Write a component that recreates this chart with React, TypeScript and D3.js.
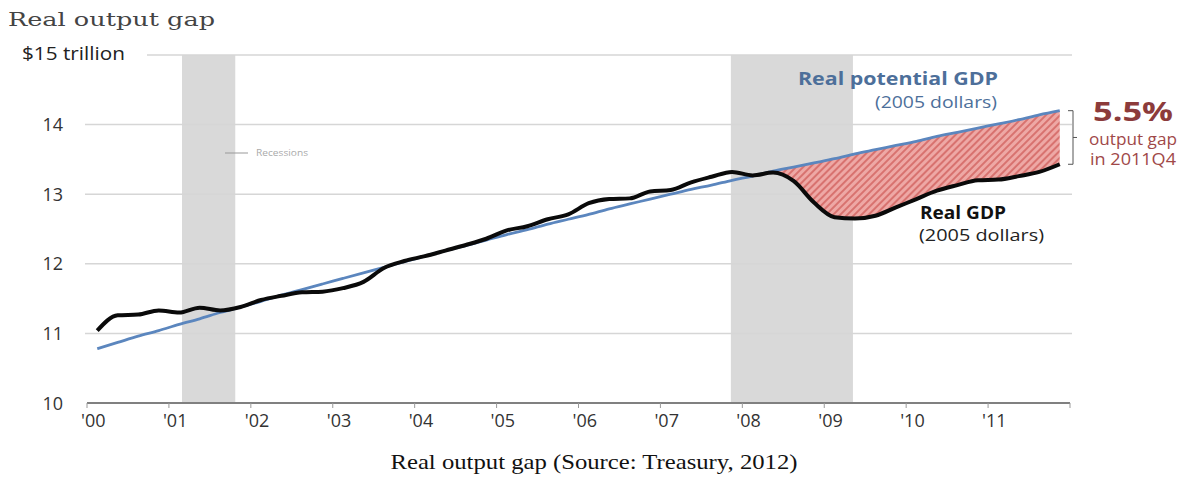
import React from "react";
import * as d3 from "d3";

const years = [2000, 2001, 2002, 2003, 2004, 2005, 2006, 2007, 2008, 2009, 2010, 2011];
const tickYears = [2000, 2001, 2002, 2003, 2004, 2005, 2006, 2007, 2008, 2009, 2010, 2011, 2012];
const tickLabels = ["'00", "'01", "'02", "'03", "'04", "'05", "'06", "'07", "'08", "'09", "'10", "'11", ""];
const yTicks = [10, 11, 12, 13, 14];

// Real GDP, trillions of 2005 dollars, quarterly 2000Q1..2011Q4
const realGDP = [
  11.04, 11.26, 11.27, 11.33,
  11.30, 11.37, 11.33, 11.38,
  11.48, 11.54, 11.59, 11.60,
  11.65, 11.74, 11.94, 12.04,
  12.11, 12.19, 12.27, 12.36,
  12.48, 12.54, 12.64, 12.71,
  12.87, 12.93, 12.94, 13.04,
  13.06, 13.17, 13.25, 13.32,
  13.27, 13.31, 13.19, 12.88,
  12.67, 12.65, 12.69, 12.81,
  12.93, 13.05, 13.13, 13.20,
  13.21, 13.26, 13.32, 13.43,
];

// Real potential GDP, trillions of 2005 dollars
const potentialGDP = [
  10.78, 10.87, 10.96, 11.04,
  11.13, 11.21, 11.30, 11.38,
  11.46, 11.55, 11.63, 11.71,
  11.79, 11.87, 11.95, 12.03,
  12.11, 12.19, 12.26, 12.34,
  12.42, 12.49, 12.57, 12.64,
  12.71, 12.79, 12.86, 12.93,
  13.00, 13.07, 13.13, 13.20,
  13.26, 13.33, 13.39, 13.45,
  13.51, 13.58, 13.64, 13.70,
  13.76, 13.83, 13.89, 13.95,
  14.01, 14.07, 14.14, 14.20,
];

const recessionStart = [2001.16, 2007.86];
const recessionEnd = [2001.81, 2009.35];

const gapStartIndex = 32; // 2008Q1

const W = 1191;
const H = 488;

export default function App() {
  const x = d3.scaleLinear().domain([2000, 2012]).range([87, 1070]);
  const y = d3.scaleLinear().domain([10, 15]).range([403, 55]);

  const quarterTime = (i: number) => years[Math.floor(i / 4)] + ((i % 4) + 0.5) / 4;

  const pts = realGDP.map((v, i) => ({ t: quarterTime(i), real: v, pot: potentialGDP[i] }));

  const lineReal = d3
    .line<any>()
    .x((d) => x(d.t))
    .y((d) => y(d.real))
    .curve(d3.curveMonotoneX);
  const linePot = d3
    .line<any>()
    .x((d) => x(d.t))
    .y((d) => y(d.pot))
    .curve(d3.curveMonotoneX);
  const gapArea = d3
    .area<any>()
    .x((d) => x(d.t))
    .y0((d) => y(d.real))
    .y1((d) => y(Math.max(d.pot, d.real)))
    .curve(d3.curveMonotoneX);

  const gapPts = pts.slice(gapStartIndex);
  const last = pts[pts.length - 1];
  const yTop = y(last.pot);
  const yBot = y(last.real);
  const yMid = (yTop + yBot) / 2;

  const sans = "'Open Sans', 'Noto Sans', sans-serif";
  const serif = "'DejaVu Serif', serif";

  return (
    <div style={{ position: "absolute", left: 0, top: 0 }}>
      <svg width={W} height={H} style={{ display: "block", background: "#fff" }}>
        <defs>
          <pattern id="hatch" patternUnits="userSpaceOnUse" width="5" height="5" patternTransform="rotate(45)">
            <rect width="5" height="5" fill="#eea8a5" />
            <rect width="2" height="5" fill="#d8726f" />
          </pattern>
        </defs>

        {/* title */}
        <text x={8} y={26} fontFamily={serif} fontSize={19} fill="#444" textLength={207} lengthAdjust="spacingAndGlyphs">
          Real output gap
        </text>
        <text x={22} y={60} fontFamily={sans} fontSize={18} fill="#222" textLength={103} lengthAdjust="spacingAndGlyphs">
          $15 trillion
        </text>

        {/* recession bars */}
        {recessionStart.map((s, i) => (
          <rect
            key={"r" + i}
            x={x(s)}
            y={y(15)}
            width={x(recessionEnd[i]) - x(s)}
            height={y(10) - y(15)}
            fill="#d9d9d9"
          />
        ))}

        {/* gridlines */}
        <line x1={147} x2={1072} y1={y(15)} y2={y(15)} stroke="#d6d6d6" strokeWidth={1.5} />
        {yTicks
          .filter((v) => v > 10)
          .map((v) => (
            <line key={"g" + v} x1={85} x2={1072} y1={y(v)} y2={y(v)} stroke="#d6d6d6" strokeWidth={1.5} />
          ))}

        {/* recession legend */}
        <line x1={225} x2={248} y1={153} y2={153} stroke="#999" strokeWidth={1} />
        <text x={256} y={156} fontFamily={sans} fontSize={9.5} fill="#aaa" textLength={52} lengthAdjust="spacingAndGlyphs">
          Recessions
        </text>

        {/* y labels */}
        {yTicks.map((v) => (
          <text key={"yl" + v} x={63} y={y(v) + 6.5} textAnchor="end" fontFamily={sans} fontSize={18} fill="#333">
            {v}
          </text>
        ))}

        {/* x axis */}
        <line x1={x(2000)} x2={x(2012)} y1={y(10)} y2={y(10)} stroke="#808080" strokeWidth={2} />
        {tickYears.map((t, i) => (
          <g key={"xt" + t}>
            <line x1={x(t)} x2={x(t)} y1={y(10)} y2={y(10) + 5} stroke="#999" strokeWidth={1} />
            <text x={x(t) - 6} y={427} fontFamily={sans} fontSize={18} fill="#333">
              {tickLabels[i]}
            </text>
          </g>
        ))}

        {/* gap area */}
        <path d={gapArea(gapPts) || ""} fill="url(#hatch)" />

        {/* lines */}
        <path d={linePot(pts) || ""} fill="none" stroke="#5b86be" strokeWidth={2.8} />
        <path d={lineReal(pts) || ""} fill="none" stroke="#0a0a0a" strokeWidth={4} strokeLinejoin="round" />

        {/* series labels */}
        <text x={998} y={85} textAnchor="end" fontFamily={sans} fontSize={18} fontWeight="bold" fill="#4d6f9a" textLength={200} lengthAdjust="spacingAndGlyphs">
          Real potential GDP
        </text>
        <text x={997} y={108} textAnchor="end" fontFamily={sans} fontSize={17} fill="#4d6f9a" textLength={122} lengthAdjust="spacingAndGlyphs">
          (2005 dollars)
        </text>
        <text x={920} y={219} fontFamily={sans} fontSize={18} fontWeight="bold" fill="#111" textLength={86} lengthAdjust="spacingAndGlyphs">
          Real GDP
        </text>
        <text x={919} y={241} fontFamily={sans} fontSize={17} fill="#222" textLength={125} lengthAdjust="spacingAndGlyphs">
          (2005 dollars)
        </text>

        {/* bracket annotation */}
        <path
          d={`M1068,${yTop} H1073 V${yBot} H1068 M1073,${yMid} H1077`}
          fill="none"
          stroke="#555"
          strokeWidth={1}
        />
        <text x={1133} y={121} textAnchor="middle" fontFamily={sans} fontSize={26} fontWeight="bold" fill="#8c3b3b" textLength={80} lengthAdjust="spacingAndGlyphs">
          5.5%
        </text>
        <text x={1133} y={145} textAnchor="middle" fontFamily={sans} fontSize={16} fill="#a04848" textLength={88} lengthAdjust="spacingAndGlyphs">
          output gap
        </text>
        <text x={1133} y={165} textAnchor="middle" fontFamily={sans} fontSize={16} fill="#a04848" textLength={86} lengthAdjust="spacingAndGlyphs">
          in 2011Q4
        </text>

        {/* caption */}
        <text x={594} y={469} textAnchor="middle" fontFamily="'Liberation Serif', serif" fontSize={21} fill="#111" textLength={407} lengthAdjust="spacingAndGlyphs">
          Real output gap (Source: Treasury, 2012)
        </text>
      </svg>
    </div>
  );
}
